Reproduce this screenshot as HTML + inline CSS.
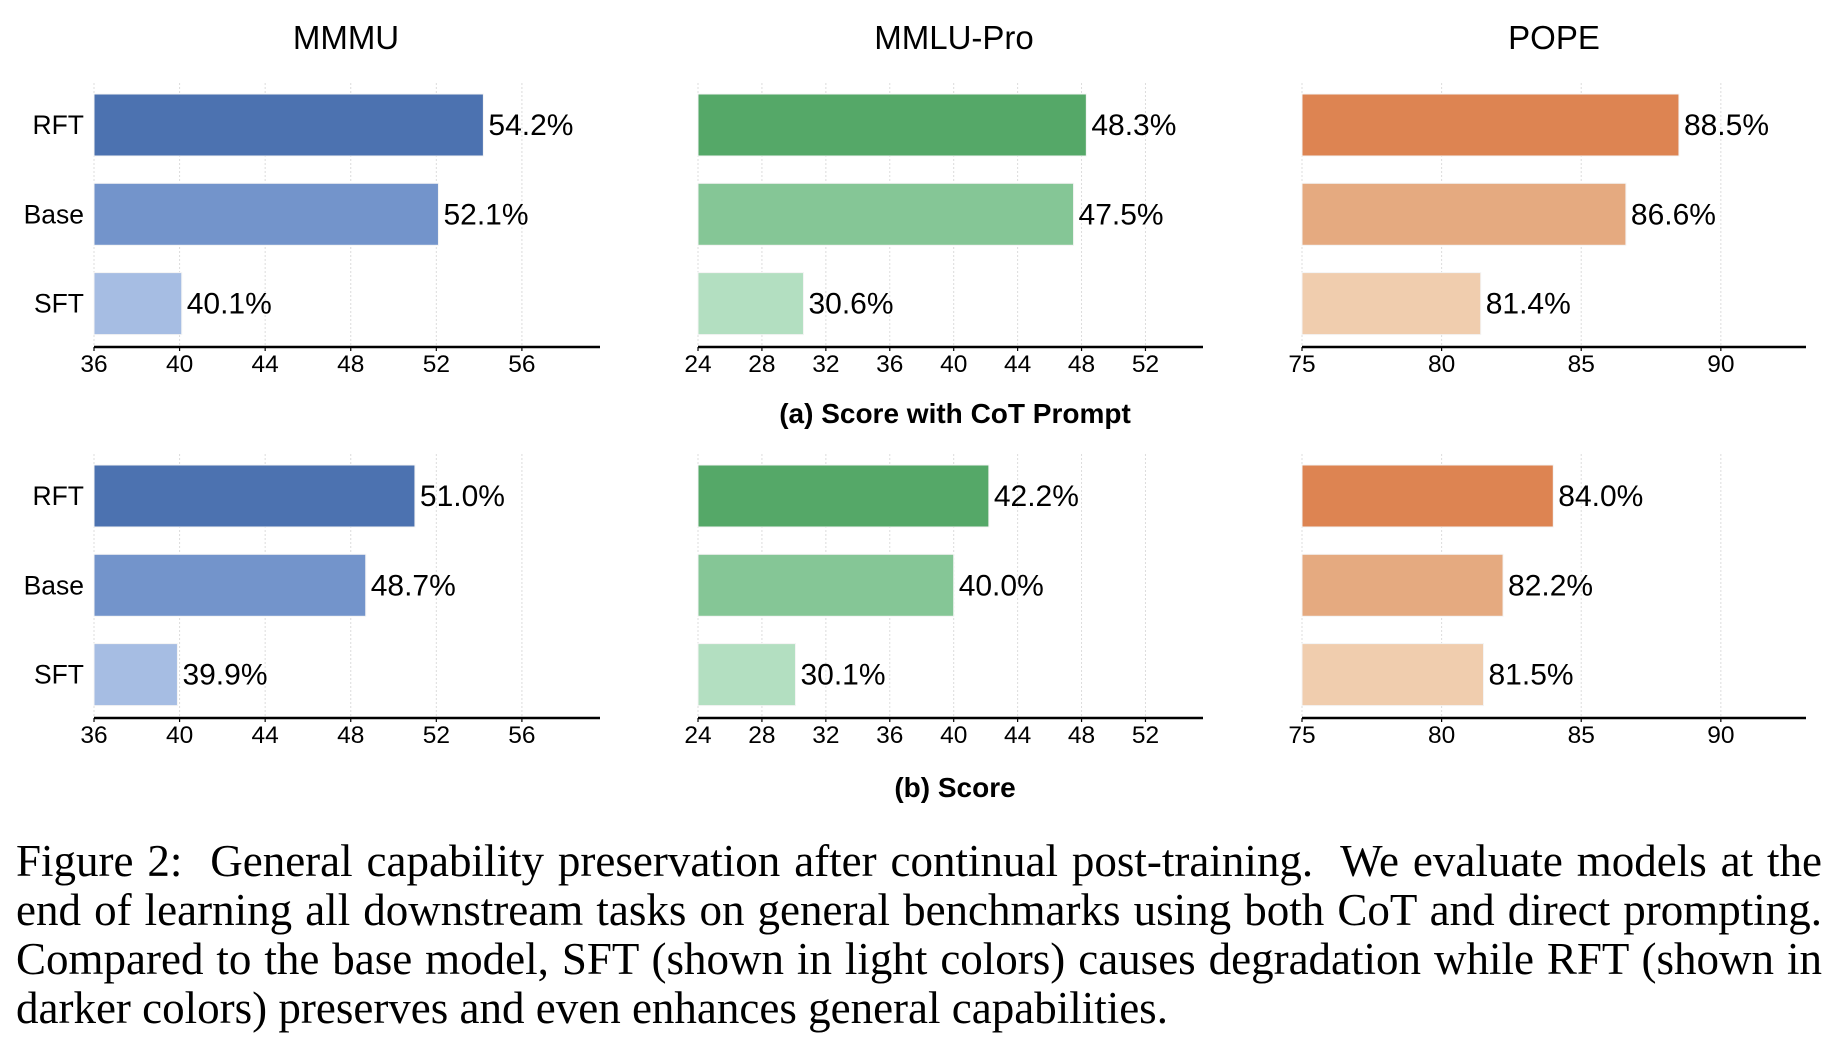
<!DOCTYPE html>
<html><head><meta charset="utf-8"><style>
html,body{margin:0;padding:0;background:#fff;width:1836px;height:1046px;overflow:hidden}
svg{position:absolute;left:0;top:0}
.cap{position:absolute;left:16px;width:1806px;font-family:"Liberation Serif",serif;font-size:45px;color:#000;text-align:justify;text-align-last:justify;white-space:nowrap;line-height:49px}
.cap div{height:49px}
.cap div.last{text-align-last:left}
</style></head><body>
<svg id="chart" width="1836" height="1046" font-family="Liberation Sans, Arial, sans-serif"></svg>
<div class="cap" style="top:837px">
<div>Figure 2:&nbsp; General capability preservation after continual post-training.&nbsp; We evaluate models at the</div>
<div>end of learning all downstream tasks on general benchmarks using both CoT and direct prompting.</div>
<div>Compared to the base model, SFT (shown in light colors) causes degradation while RFT (shown in</div>
<div class="last">darker colors) preserves and even enhances general capabilities.</div>
</div>
<script>
const categories = ["RFT", "Base", "SFT"];
const benchmarks = ["MMMU", "MMLU-Pro", "POPE"];
const cotMMMU = [54.2, 52.1, 40.1];
const cotMMLU = [48.3, 47.5, 30.6];
const cotPOPE = [88.5, 86.6, 81.4];
const dirMMMU = [51.0, 48.7, 39.9];
const dirMMLU = [42.2, 40.0, 30.1];
const dirPOPE = [84.0, 82.2, 81.5];
const ticksMMMU = [36, 40, 44, 48, 52, 56];
const ticksMMLU = [24, 28, 32, 36, 40, 44, 48, 52];
const ticksPOPE = [75, 80, 85, 90];
const domMMMU = [36, 59.65];
const domMMLU = [24, 55.6];
const domPOPE = [75, 93.05];

const NS = "http://www.w3.org/2000/svg";
const svg = document.getElementById("chart");
function mk(tag, attrs, parent) {
  const e = document.createElementNS(NS, tag);
  for (const k in attrs) e.setAttribute(k, attrs[k]);
  (parent || svg).appendChild(e);
  return e;
}
const colors = [
  ["#4c72b0", "#7394cb", "#a6bde3"],
  ["#55a868", "#85c696", "#b3dfc1"],
  ["#dd8452", "#e5aa80", "#f0cdae"]
];
const panelX = [[94, 600], [698, 1203], [1302, 1806]];
const doms = [domMMMU, domMMLU, domPOPE];
const ticks = [ticksMMMU, ticksMMLU, ticksPOPE];
const rows = [
  {top: 0, data: [cotMMMU, cotMMLU, cotPOPE]},
  {top: 371, data: [dirMMMU, dirMMLU, dirPOPE]}
];

const titleX = [346, 954, 1554];
benchmarks.forEach((b, i) => {
  const t = mk("text", {x: titleX[i], y: 49, "text-anchor": "middle", "font-size": 33, fill: "#000"});
  
  
  t.textContent = b;
});

rows.forEach((row, ri) => {
  const oy = row.top;
  const axisY = 347 + oy;
  const bandTop = 90 + oy, pitch = 89.3, barH = 62;
  for (let p = 0; p < 3; p++) {
    const [x0, x1] = panelX[p];
    const d = doms[p];
    const sx = v => x0 + (v - d[0]) / (d[1] - d[0]) * (x1 - x0);
    const g = mk("g", {});
    
    
    ticks[p].forEach(tv => {
      const x = sx(tv);
      const gl = mk("line", {x1: x, x2: x, y1: 83 + oy, y2: axisY, stroke: "#dcdcdc", "stroke-width": 1, "stroke-dasharray": "2,2"}, g);
      
      
      const tk = mk("line", {x1: x, x2: x, y1: axisY, y2: axisY + 4, stroke: "#000", "stroke-width": 1.2}, g);
      
      
      const tl = mk("text", {x: x, y: axisY + 25, "text-anchor": "middle", "font-size": 24.5, fill: "#000"}, g);
      
      
      tl.textContent = tv;
    });
    const vals = row.data[p];
    categories.forEach((c, ci) => {
      const y = bandTop + ci * pitch + 4;
      const w = sx(vals[ci]) - x0;
      const r = mk("rect", {x: x0, y: y, width: w, height: barH, fill: colors[p][ci], stroke: "#f4f4f4", "stroke-width": 1}, g);
      
      
      const vl = mk("text", {x: x0 + w + 5, y: y + barH / 2 + 10, "font-size": 30, fill: "#000"}, g);
      
      
      vl.textContent = vals[ci].toFixed(1) + "%";
      if (p === 0) {
        const yl = mk("text", {x: 84, y: y + barH / 2 + 9, "text-anchor": "end", "font-size": 26.5, fill: "#000"}, g);
        
        
        yl.textContent = c;
      }
    });
    const ax = mk("line", {x1: x0, x2: x1, y1: axisY, y2: axisY, stroke: "#000", "stroke-width": 2.5}, g);
    
    
  }
});

const sa = mk("text", {x: 955, y: 423, "text-anchor": "middle", "font-size": 28, "font-weight": "bold", fill: "#000"});


sa.textContent = "(a) Score with CoT Prompt";
const sb = mk("text", {x: 955, y: 797, "text-anchor": "middle", "font-size": 28, "font-weight": "bold", fill: "#000"});


sb.textContent = "(b) Score";
</script>
</body></html>
